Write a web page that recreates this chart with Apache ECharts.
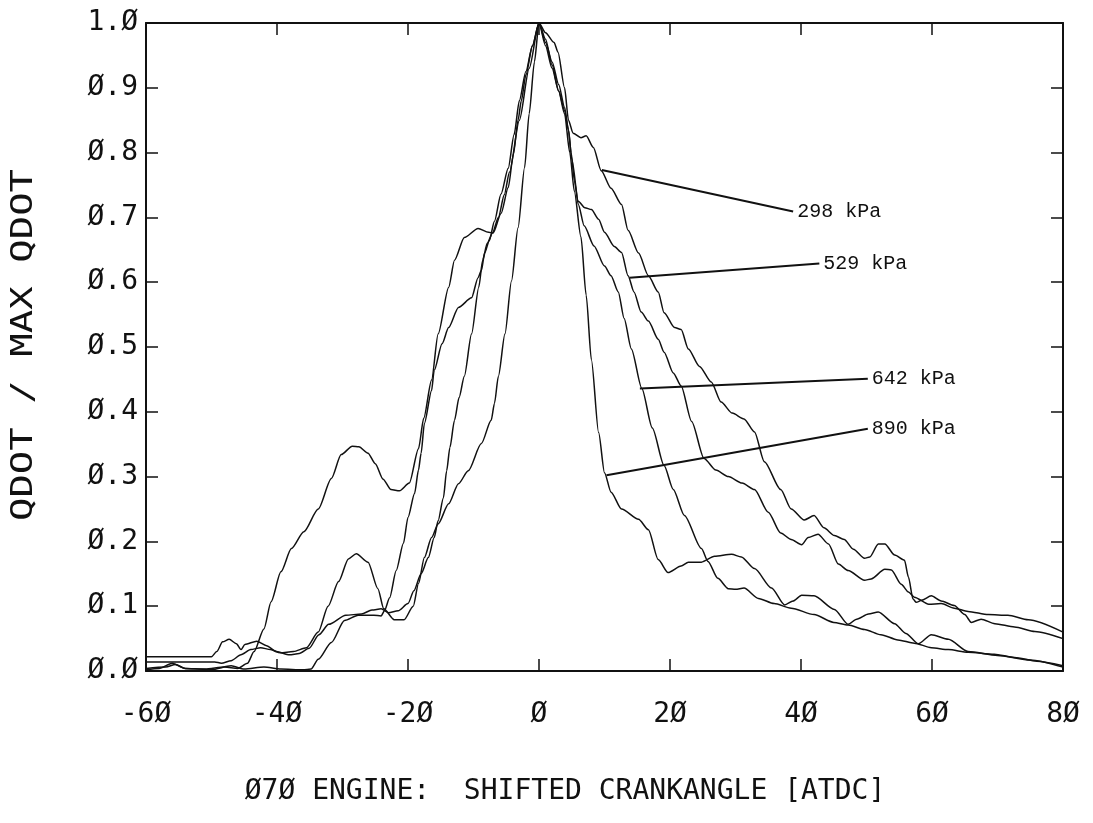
<!DOCTYPE html>
<html><head><meta charset="utf-8">
<script src="https://cdn.jsdelivr.net/npm/echarts@6/dist/echarts.min.js"></script>
<style>html,body{margin:0;padding:0;background:#fff}#c{width:1093px;height:823px}</style>
</head><body><div id="c"></div>
<script>
const xTickValues = [-60, -40, -20, 0, 20, 40, 60, 80];
const xTickLabels = ['-6Ø', '-4Ø', '-2Ø', 'Ø', '2Ø', '4Ø', '6Ø', '8Ø'];
const yTickValues = [0, 0.1, 0.2, 0.3, 0.4, 0.5, 0.6, 0.7, 0.8, 0.9, 1.0];
const yTickLabels = ['Ø.Ø', 'Ø.1', 'Ø.2', 'Ø.3', 'Ø.4', 'Ø.5', 'Ø.6', 'Ø.7', 'Ø.8', 'Ø.9', '1.Ø'];
const xTitle = 'Ø7Ø ENGINE:  SHIFTED CRANKANGLE [ATDC]';
const yTitle = 'QDOT / MAX QDOT';
const seriesNames = ['298 kPa', '529 kPa', '642 kPa', '890 kPa'];

// [crank angle, qdot / max qdot]
const q298 = [[-60,0.004],[-57,0.006],[-55.5,0.01],[-54,0.004],[-51,0.003],[-48,0.006],[-46,0.004],[-44.5,0.012],[-43.5,0.03],[-42,0.065],[-40.9,0.107],[-39.4,0.153],[-37.8,0.189],[-35.9,0.215],[-33.7,0.25],[-31.7,0.297],[-30.2,0.334],[-28.5,0.347],[-27.5,0.346],[-26.1,0.336],[-25,0.32],[-23.8,0.296],[-22.6,0.28],[-21.3,0.278],[-19.8,0.29],[-18.4,0.343],[-17.6,0.39],[-16.4,0.449],[-15.4,0.52],[-13.8,0.592],[-12.9,0.634],[-11.4,0.669],[-9.3,0.683],[-7.7,0.677],[-7,0.676],[-5.8,0.706],[-4.7,0.746],[-3.9,0.798],[-3.2,0.85],[-2.7,0.88],[-2,0.92],[-1,0.965],[0,1.0],
  [1,0.985],[2.3,0.97],[2.9,0.955],[3.9,0.9],[4.5,0.85],[5.2,0.83],[6.4,0.823],[7.2,0.826],[8.3,0.808],[9.5,0.772],[11,0.745],[12.6,0.72],[13.6,0.68],[15.2,0.645],[16.7,0.61],[18.2,0.585],[19.1,0.553],[20.7,0.53],[21.7,0.527],[22.8,0.497],[24.5,0.47],[26.3,0.446],[27.8,0.415],[29.5,0.398],[31.3,0.389],[32.9,0.369],[34.4,0.323],[36.9,0.28],[38.5,0.25],[40.5,0.233],[42,0.24],[43.5,0.221],[45.1,0.209],[46.6,0.203],[48,0.188],[49.7,0.174],[50.5,0.176],[51.8,0.196],[52.8,0.196],[54.3,0.179],[55.8,0.171],[56.4,0.145],[57.1,0.111],[57.6,0.106],[58.4,0.109],[59.9,0.116],[61.4,0.108],[63.4,0.101],[65,0.087],[66,0.075],[67.5,0.08],[69.6,0.073],[72.6,0.068],[75.7,0.061],[80,0.05]];

const q529 = [[-60,0.002],[-58,0.004],[-56,0.012],[-54,0.004],[-50,0.002],[-47,0.008],[-45,0.003],[-42,0.006],[-39.4,0.003],[-36,0.002],[-34.8,0.003],[-33.7,0.018],[-31.7,0.044],[-29.7,0.078],[-27.6,0.086],[-25.2,0.086],[-24.1,0.085],[-23.6,0.093],[-22.8,0.113],[-21.8,0.155],[-20.7,0.197],[-20,0.237],[-19,0.274],[-18.4,0.31],[-18,0.336],[-17.5,0.382],[-16.4,0.433],[-16,0.464],[-14.8,0.505],[-13.8,0.53],[-12.3,0.561],[-10.3,0.576],[-9.3,0.607],[-8.8,0.618],[-8.3,0.645],[-7.6,0.664],[-6.8,0.694],[-5.8,0.736],[-4.7,0.776],[-3.8,0.828],[-3,0.88],[-2,0.925],[-1,0.965],[0,1.0],
  [1,0.975],[2,0.935],[3,0.895],[3.9,0.865],[4.5,0.835],[5,0.79],[6,0.725],[7,0.715],[8,0.712],[9.1,0.697],[10,0.677],[11.5,0.655],[12.6,0.646],[13.6,0.61],[14.5,0.585],[15.6,0.554],[16.7,0.54],[18.2,0.512],[19.1,0.492],[20.5,0.46],[21.7,0.44],[23.3,0.385],[25.2,0.328],[27,0.31],[28.9,0.3],[31,0.29],[32.9,0.28],[35,0.245],[36.9,0.213],[38.5,0.203],[40.1,0.195],[41.1,0.206],[42.6,0.211],[44.2,0.196],[45.7,0.165],[47.2,0.155],[49.7,0.14],[50.7,0.142],[52.8,0.157],[53.8,0.156],[55.3,0.134],[56.4,0.122],[57.3,0.114],[59.5,0.103],[61.4,0.104],[63.4,0.097],[65.5,0.092],[68.6,0.087],[71.6,0.086],[74.7,0.079],[80,0.06]];

const q642 = [[-60,0.022],[-50,0.022],[-49.2,0.03],[-48.3,0.045],[-47.3,0.049],[-46.2,0.042],[-45.5,0.033],[-44.9,0.041],[-43.1,0.046],[-41.6,0.039],[-40.1,0.03],[-38.1,0.025],[-36.6,0.027],[-35.1,0.035],[-33.6,0.056],[-32.1,0.072],[-29.5,0.086],[-27.1,0.088],[-25.5,0.094],[-24.1,0.096],[-23,0.09],[-21.5,0.093],[-20,0.104],[-19.1,0.124],[-18,0.15],[-16.9,0.175],[-16,0.206],[-15.4,0.232],[-14.6,0.267],[-14.1,0.309],[-13.6,0.345],[-12.9,0.387],[-12.2,0.422],[-11.4,0.455],[-10.3,0.52],[-9.2,0.592],[-8.6,0.634],[-7.9,0.66],[-7.1,0.676],[-6.2,0.7],[-5.3,0.735],[-4.5,0.77],[-3,0.85],[-1.5,0.93],[0,1.0],
  [1,0.97],[2,0.94],[3,0.905],[3.9,0.87],[4.5,0.835],[4.9,0.8],[5.4,0.757],[6,0.72],[6.9,0.687],[8.4,0.656],[10,0.625],[11,0.61],[12.1,0.585],[13,0.544],[14.1,0.497],[15.7,0.436],[17.3,0.375],[19.1,0.317],[20.5,0.28],[22.2,0.24],[24.8,0.189],[25.8,0.169],[27.3,0.143],[28.9,0.127],[30,0.126],[31.3,0.128],[33.5,0.112],[35.9,0.104],[38.5,0.097],[42,0.087],[45,0.075],[47.2,0.071],[49.7,0.064],[52.2,0.056],[54.8,0.048],[57.3,0.043],[59.9,0.036],[62.5,0.033],[65.5,0.029],[69.5,0.026],[72.6,0.021],[76,0.015],[80,0.008]];

const q890 = [[-60,0.014],[-49.5,0.014],[-48.5,0.012],[-47,0.016],[-45.5,0.025],[-44,0.033],[-42.5,0.036],[-41,0.033],[-39.5,0.028],[-37.5,0.03],[-35.5,0.036],[-33.7,0.06],[-32.2,0.1],[-30.6,0.138],[-29.1,0.173],[-27.9,0.181],[-26.1,0.168],[-24.6,0.127],[-23.7,0.096],[-22.1,0.079],[-20.6,0.079],[-19.2,0.1],[-18.4,0.135],[-17.5,0.175],[-16.4,0.206],[-15.4,0.227],[-13.8,0.258],[-12.3,0.289],[-10.8,0.309],[-8.8,0.351],[-7.3,0.387],[-6.8,0.413],[-6.2,0.455],[-5.2,0.52],[-4.2,0.602],[-3.2,0.684],[-2.2,0.777],[-1.5,0.86],[-0.7,0.94],[0,1.0],
  [1,0.965],[2,0.93],[3,0.895],[3.9,0.86],[4.7,0.8],[5.4,0.74],[6.4,0.67],[7.2,0.58],[8,0.48],[9.1,0.368],[10,0.306],[11,0.276],[12.6,0.25],[15.2,0.234],[16.7,0.218],[18.2,0.172],[19.7,0.152],[21.7,0.162],[22.8,0.168],[24.8,0.168],[26.8,0.177],[29.4,0.18],[30.9,0.176],[32.9,0.158],[35.5,0.128],[37.5,0.102],[38.8,0.108],[40.1,0.117],[42,0.116],[45.1,0.095],[47.2,0.072],[48.5,0.08],[50.3,0.088],[51.8,0.091],[54.3,0.073],[56,0.058],[57.9,0.042],[59.9,0.056],[62.5,0.049],[65.5,0.03],[70,0.024],[75,0.017],[80,0.006]];

// leader lines: [curve point, label point]
const lead298 = [[9.6, 0.773], [38.8, 0.709]];
const lead529 = [[13.8, 0.607], [42.8, 0.629]];
const lead642 = [[15.4, 0.436], [50.2, 0.451]];
const lead890 = [[10.3, 0.302], [50.2, 0.374]];

const curves = [q298, q529, q642, q890];
const leaders = [lead298, lead529, lead642, lead890];

const INK = '#111';
const tickFont = 'DejaVu Sans Mono';
const xLab = v => { const i = xTickValues.findIndex(t => Math.abs(t - v) < 1e-6); return i >= 0 ? xTickLabels[i] : ''; };
const yLab = v => { const i = yTickValues.findIndex(t => Math.abs(t - v) < 1e-6); return i >= 0 ? yTickLabels[i] : ''; };

const axisLineStyle = { show: true, onZero: false, lineStyle: { color: INK, width: 2 } };
const tickStyle = { show: true, inside: true, length: 12, lineStyle: { color: INK, width: 1.5 } };

const series = [];
curves.forEach((d, i) => {
  series.push({
    name: seriesNames[i], type: 'line', data: d, showSymbol: false, symbol: 'none',
    smooth: 0.25, smoothMonotone: 'x', xAxisIndex: 0, yAxisIndex: 0,
    lineStyle: { color: INK, width: 1.5 }, silent: true, z: 3
  });
});
leaders.forEach((d, i) => {
  series.push({
    name: seriesNames[i] + ' label', type: 'line', data: d, showSymbol: false, symbol: 'none',
    xAxisIndex: 0, yAxisIndex: 0, silent: true, z: 4,
    lineStyle: { color: INK, width: 2 },
    endLabel: { show: true, formatter: seriesNames[i], distance: 4,
      fontFamily: 'Liberation Mono', fontSize: 20, color: INK }
  });
});

const chart = echarts.init(document.getElementById('c'), null, { renderer: 'canvas' });
chart.setOption({
  animation: false,
  backgroundColor: '#fff',
  grid: { left: 146, right: 30, top: 23, bottom: 152, containLabel: false },
  xAxis: [
    { type: 'value', position: 'bottom', min: -60, max: 80, interval: 20,
      axisLine: axisLineStyle, axisTick: tickStyle, splitLine: { show: false },
      axisLabel: { formatter: xLab, margin: 30, fontFamily: tickFont, fontSize: 28, color: INK } },
    { type: 'value', position: 'top', min: -60, max: 80, interval: 20,
      axisLine: axisLineStyle, axisTick: tickStyle, splitLine: { show: false }, axisLabel: { show: false } }
  ],
  yAxis: [
    { type: 'value', position: 'left', min: 0, max: 1, interval: 0.1,
      axisLine: axisLineStyle, axisTick: tickStyle, splitLine: { show: false },
      axisLabel: { formatter: yLab, margin: 8, fontFamily: tickFont, fontSize: 28, color: INK } },
    { type: 'value', position: 'right', min: 0, max: 1, interval: 0.1,
      axisLine: axisLineStyle, axisTick: tickStyle, splitLine: { show: false }, axisLabel: { show: false } }
  ],
  graphic: [
    { type: 'text', x: 565, y: 792, style: { text: xTitle, fill: INK, font: '28px "DejaVu Sans Mono"', align: 'center', verticalAlign: 'middle' } },
    { type: 'text', x: 24, y: 345, rotation: Math.PI / 2, scaleX: 1.3, style: { text: yTitle, fill: INK, font: '30px "DejaVu Sans Mono"', align: 'center', verticalAlign: 'middle' } }
  ],
  series: series
});
</script></body></html>
